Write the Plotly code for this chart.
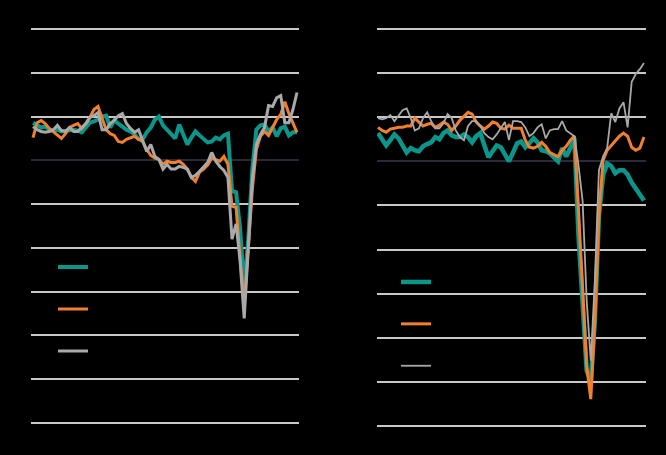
import plotly.graph_objects as go

months = [f"{y}-{m:02d}" for y in range(2016, 2022) for m in range(1, 13)][:66]

series_names = ["Series A", "Series B", "Series C"]
colors = ["#0a968a", "#f07f2e", "#a9a9a9"]

# left panel
left_a = [8.6, 8.0, 7.5, 7.7, 7.0, 6.8, 7.0, 6.6, 6.8, 7.0, 7.0, 6.8, 6.4, 7.5, 8.6, 8.9,
          9.3, 10.0, 10.2, 7.5, 9.1, 8.4, 7.7, 7.0, 6.6, 5.9, 4.8, 4.8, 6.4, 7.5, 9.3, 10.0,
          8.0, 7.0, 5.7, 5.0, 8.2, 5.9, 3.6, 5.2, 6.6, 5.7, 4.8, 4.1, 4.3, 5.2, 4.8, 5.7,
          6.1, -7.0, -7.3, -15.7, -29.3, -18.0, -2.0, 7.0, 8.0, 8.2, 6.6, 7.5, 5.5, 7.3,
          7.7, 5.7, 6.4, 6.4]
left_b = [5.2, 8.6, 9.1, 8.4, 7.3, 6.6, 5.9, 5.0, 6.1, 7.5, 8.0, 8.4, 7.3, 8.4, 9.8, 11.6,
          12.3, 9.8, 7.0, 6.1, 5.7, 4.3, 4.1, 4.8, 5.2, 5.5, 4.8, 4.3, 2.5, 1.1, 0.5, 0.2,
          -0.9, -0.2, -0.5, -0.5, -0.2, -0.9, -2.0, -3.9, -4.8, -2.7, -2.0, -1.1, 0.5, 0.2,
          -0.2, 0.9, -0.9, -10.5, -10.7, -22.5, -32.7, -20.2, -6.6, 2.5, 5.5, 6.6, 5.7, 7.5,
          9.3, 10.5, 13.4, 10.7, 8.4, 6.4]
left_c = [7.7, 7.0, 6.6, 6.4, 6.6, 7.0, 8.0, 6.8, 6.6, 7.5, 6.6, 6.6, 7.5, 8.4, 9.8, 10.2,
          10.9, 7.0, 7.0, 8.4, 9.1, 10.2, 10.7, 8.4, 7.3, 6.4, 7.0, 4.3, 2.0, 3.6, 0.9, 0.2,
          -2.0, -0.9, -2.0, -2.0, -1.4, -1.6, -2.0, -3.9, -3.4, -2.5, -1.6, -0.5, 1.8, -0.2,
          -1.4, -2.3, -3.9, -18.0, -14.5, -23.0, -36.1, -21.4, -4.3, 3.6, 5.9, 7.5, 12.5,
          12.3, 14.3, 14.8, 8.6, 8.6, 11.6, 15.5]

# right panel
right_a = [6.4, 4.8, 3.6, 4.8, 6.1, 5.2, 3.6, 2.0, 3.0, 2.5, 2.3, 3.4, 3.9, 4.3, 5.5, 5.0,
           6.4, 7.0, 5.9, 5.5, 5.5, 6.1, 5.5, 4.3, 5.7, 6.4, 3.6, 0.9, 2.3, 3.6, 3.2, 1.8,
           0.0, 2.0, 4.1, 4.5, 3.2, 4.1, 5.2, 4.3, 2.5, 2.3, 1.8, 0.9, 0.0, 3.0, 1.1, 3.0,
           5.2, -16.8, -33.9, -47.5, -49.8, -36.1, -12.3, -3.2, -0.5, -1.1, -2.7, -2.0, -2.0,
           -3.0, -4.8, -6.1, -7.7, -8.9]
right_b = [7.7, 7.0, 6.6, 7.3, 7.5, 7.7, 7.7, 8.0, 8.0, 9.8, 8.9, 8.0, 8.4, 8.6, 7.7, 8.2,
           8.9, 8.4, 7.0, 8.0, 9.3, 10.2, 11.1, 10.7, 8.9, 8.0, 7.3, 8.0, 8.9, 8.6, 7.5, 7.3,
           8.2, 7.5, 7.5, 7.5, 4.8, 3.2, 3.0, 3.4, 4.3, 3.4, 2.0, 1.6, 1.1, 2.5, 3.4, 4.8,
           5.7, -11.1, -29.3, -46.4, -53.9, -36.1, -12.3, 0.2, 2.5, 3.6, 4.8, 5.7, 6.4, 5.7,
           3.2, 2.5, 3.0, 5.5]
right_c = [9.8, 9.5, 9.8, 10.5, 9.1, 10.5, 11.6, 12.0, 9.8, 7.0, 7.5, 9.8, 11.1, 9.1, 7.5,
           7.5, 8.6, 10.7, 9.8, 7.0, 5.5, 4.8, 8.0, 9.1, 9.1, 8.0, 6.4, 5.5, 5.0, 6.1, 7.5,
           8.9, 4.8, 9.1, 9.1, 8.9, 7.7, 5.7, 6.4, 7.7, 8.4, 5.2, 7.0, 7.3, 7.3, 9.1, 7.0,
           6.4, 5.7, -0.9, -8.9, -31.6, -45.2, -27.0, -2.0, 1.1, 3.0, 10.9, 8.9, 12.0, 13.4,
           7.7, 18.0, 19.8, 20.9, 22.3]

fig = go.Figure()

left_widths = [4, 3, 3]
for name, vals, col, w in zip(series_names, [left_a, left_b, left_c], colors, left_widths):
    fig.add_trace(go.Scatter(x=months, y=vals, name=name, mode="lines",
                             line=dict(color=col, width=w),
                             xaxis="x", yaxis="y", legend="legend",
                             legendgroup="l" + name))

right_widths = [4.5, 3, 1.8]
for name, vals, col, w in zip(series_names, [right_a, right_b, right_c], colors, right_widths):
    fig.add_trace(go.Scatter(x=months, y=vals, name=name, mode="lines",
                             line=dict(color=col, width=w),
                             xaxis="x2", yaxis="y2", legend="legend2",
                             legendgroup="r" + name))

grid = dict(showgrid=True, gridcolor="#c8c8c8", gridwidth=1.5, dtick=10, tick0=0,
            zeroline=True, zerolinecolor="#2a2a38", zerolinewidth=1.5,
            showticklabels=False, ticks="", showline=False)
noaxis = dict(type="category", showgrid=False, zeroline=False, showticklabels=False,
              ticks="", showline=False)

legend_style = dict(font=dict(color="#000000", size=13), bgcolor="rgba(0,0,0,0)",
                    tracegroupgap=22, xanchor="left", yanchor="top")

fig.update_layout(
    width=666, height=455,
    paper_bgcolor="#000000", plot_bgcolor="#000000",
    margin=dict(l=31, r=20, t=27, b=27),
    showlegend=True,
    xaxis=dict(noaxis, domain=[0, 0.4358], range=[-0.5, 65.5]),
    xaxis2=dict(noaxis, domain=[0.5626, 1], range=[-0.25, 65.5]),
    yaxis=dict(grid, range=[-61.14, 30.46], anchor="x"),
    yaxis2=dict(grid, range=[-60.45, 30.45], anchor="x2"),
    legend=dict(legend_style, x=0.0358, y=0.4385),
    legend2=dict(legend_style, x=0.5935, y=0.4015),
)

fig.write_html("out.html", config={"displayModeBar": False},
               post_script="document.body.style.margin='0';document.body.style.background='#000';")
